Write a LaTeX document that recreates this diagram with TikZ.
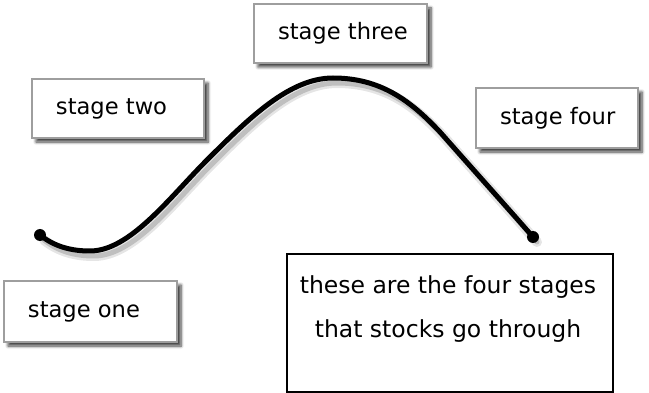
\documentclass[tikz,border=0pt]{standalone}
\usepackage{fontspec}
\setmainfont{DejaVu Sans}
\usetikzlibrary{shadows,shadows.blur}
\tikzset{
  stagebox/.style={draw=black!38, line width=1.5pt, fill=white, inner ysep=0pt,
    inner xsep=0pt, minimum width=#1,
    font=\fontsize{22.6}{26}\selectfont,
    blur shadow={shadow xshift=4pt, shadow yshift=-4pt, shadow blur radius=3pt,
      shadow blur steps=6, shadow opacity=75}},
  notebox/.style={draw=black, line width=2.2pt, fill=white, inner sep=0pt},
  notetext/.style={font=\fontsize{23.5}{44}\selectfont, align=center, inner sep=0pt},
  wave/.style={line width=5pt, black, line cap=round, line join=round},
  waveshadowa/.style={line width=10pt, black!10, line cap=round, line join=round},
  waveshadowb/.style={line width=5pt, black!25, line cap=round, line join=round}
}
% left-aligned label: 24pt padding, then a box of the given inner width
\newcommand\stglabel[2]{\hspace*{24pt}\makebox[#1][l]{#2}\hspace*{24pt}}
\def\wavepath{(40,235) .. controls (55,247) and (72,251) .. (90,251)
  .. controls (130,251) and (170,197) .. (207,160)
  .. controls (250,117) and (290,78) .. (333,78)
  .. controls (380,78) and (410,100) .. (440,132)
  .. controls (470,166) and (505,205) .. (533,237)}
\begin{document}
\begin{tikzpicture}[x=1pt,y=-1pt]
\useasboundingbox (0,0) rectangle (649,393);
% curve shadow and curve
\begin{scope}[xshift=4pt,yshift=-5pt]
\draw[waveshadowa] \wavepath;
\draw[waveshadowb] \wavepath;
\end{scope}
\coordinate (e1) at (40,235);
\coordinate (e2) at (533,237);
\draw[wave] \wavepath;
\fill (e1) circle (6pt);
\fill (e2) circle (6pt);
% stage boxes
\node[stagebox=172pt, minimum height=59pt] (s2) at (118,108.5) {\stglabel{124pt}{stage two}};
\node[stagebox=173pt, minimum height=59pt] (s3) at (340.5,33.5) {\stglabel{125pt}{stage three}};
\node[stagebox=162pt, minimum height=60pt] (s4) at (557,118) {\stglabel{114pt}{stage four}};
\node[stagebox=173pt, minimum height=61pt] (s1) at (90.5,311.5) {\stglabel{125pt}{stage one}};
% note box
\node[notebox, minimum width=326pt, minimum height=138pt] (nb) at (450,323) {};
\node[notetext, anchor=north] (nt) at (448,275) {these are the four stages\\that stocks go through};
\end{tikzpicture}
\end{document}
